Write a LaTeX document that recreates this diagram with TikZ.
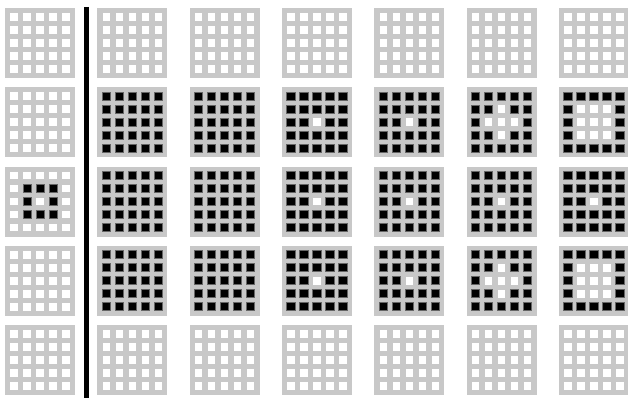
\documentclass[tikz,border=0pt]{standalone}
\usepackage{tikz}
\definecolor{gridgray}{RGB}{200,200,200}

% one 5x5 board: name, column, row, test for a black cell
\newcommand{\drawgrid}[4]{%
  \node[gridbox] (#1) at ({40+#2*92.33},{43+#3*79.25}) {};
  \foreach \i in {1,...,5}{
    \foreach \j in {1,...,5}{
      \pgfmathtruncatemacro\dch{max(abs(\i-3),abs(\j-3))}
      \pgfmathtruncatemacro\dmn{abs(\i-3)+abs(\j-3)}
      \pgfmathtruncatemacro\isblack{#4}
      \ifnum\isblack>0
        \node[cellon] (#1-\i-\j) at ({40+#2*92.33+(\i-3)*13},{43+#3*79.25+(\j-3)*13}) {};
      \else
        \node[celloff] (#1-\i-\j) at ({40+#2*92.33+(\i-3)*13},{43+#3*79.25+(\j-3)*13}) {};
      \fi
    }
  }
}

\begin{document}
\begin{tikzpicture}[x=1pt,y=-1pt,
    gridbox/.style={rectangle,fill=gridgray,minimum size=70pt,inner sep=0pt},
    cellon/.style={rectangle,fill=black,draw=black!60,line width=0.8pt,minimum size=8.2pt,inner sep=0pt},
    celloff/.style={rectangle,fill=white,minimum size=7.6pt,inner sep=0pt},
    sepline/.style={black,line width=4.5pt},
  ]
  \useasboundingbox (0,0) rectangle (628,398);
  \foreach \c/\pa/\pb/\pc in {0/0/\dch==1/0, 1/1/1/1, 2/1/1/1,
      3/\dch>0/\dch>0/\dch>0, 4/\dch>0/\dch>0/\dch>0,
      5/\dmn>1/\dch>0/\dmn>1, 6/\dch>1/\dch>0/\dch>1}{
    \drawgrid{g-\c-0}{\c}{0}{0}
    \drawgrid{g-\c-1}{\c}{1}{\pa}
    \drawgrid{g-\c-2}{\c}{2}{\pb}
    \drawgrid{g-\c-3}{\c}{3}{\pc}
    \drawgrid{g-\c-4}{\c}{4}{0}
  }
  \coordinate (top) at (86.5,7);
  \coordinate (bottom) at (86.5,398);
  \draw[sepline] (top) -- (bottom);
\end{tikzpicture}
\end{document}
